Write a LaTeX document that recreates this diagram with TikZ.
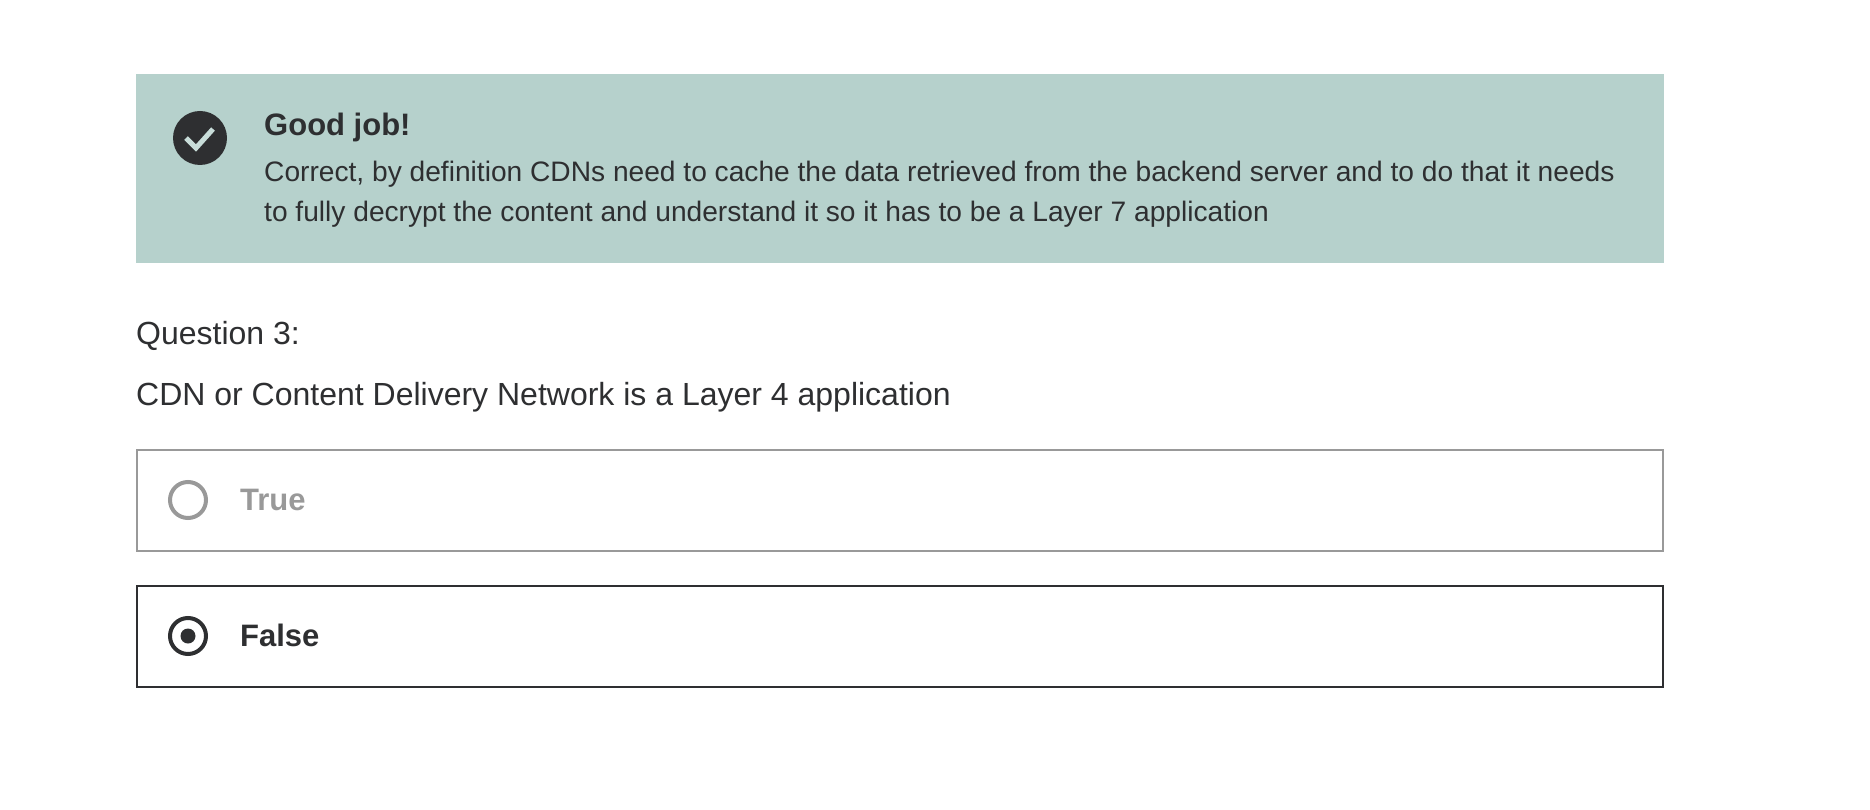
\documentclass[tikz,border=0pt]{standalone}
\usepackage{fontspec}
\setmainfont{Liberation Sans}
\usepackage{xcolor}
\usetikzlibrary{positioning}

\definecolor{banner}{HTML}{B6D1CC}
\definecolor{ink}{HTML}{2E2F31}
\definecolor{muted}{HTML}{999999}

\tikzset{
	body/.style={anchor=base west,inner sep=0pt,text=ink,font=\fontsize{28.15}{36}\selectfont},
	head/.style={body,font=\fontsize{31}{36}\selectfont\bfseries},
	choice/.style={draw=#1,line width=2pt,fill=white},
}

\begin{document}
\begin{tikzpicture}[x=1pt,y=-1pt]
	\useasboundingbox[fill=white] (0,0) rectangle (1870,810);

	% result banner
	\fill[banner] (136,74) rectangle (1664,263);
	\node[circle,fill=ink,minimum size=54pt,inner sep=0pt] (tick) at (200,138) {};
	\draw[banner!75!white,line width=5pt] (186,138) -- (196,148) -- (213,129);
	\node[head] (title) at (264,136) {Good job!};
	\node[body] (lineA) at (264,182) {Correct, by definition CDNs need to cache the data retrieved from the backend server and to do that it needs};
	\node[body] (lineB) at (264,222) {to fully decrypt the content and understand it so it has to be a Layer 7 application};

	% question
	\node[body,font=\fontsize{32}{36}\selectfont] (qnum) at (136,344) {Question 3:};
	\node[body,font=\fontsize{32}{36}\selectfont] (qtext) at (136,405) {CDN or Content Delivery Network is a Layer 4 application};

	% answers
	\draw[choice=muted] (137,450) rectangle (1663,551);
	\node[circle,draw=muted,line width=4pt,minimum size=36pt,inner sep=0pt] (radioT) at (188,500) {};
	\node[head,text=muted] (labelT) at (240,510) {True};

	\draw[choice=ink] (137,586) rectangle (1663,687);
	\node[circle,draw=ink,line width=4pt,minimum size=36pt,inner sep=0pt] (radioF) at (188,636) {};
	\node[circle,fill=ink,minimum size=15pt,inner sep=0pt] (dotF) at (188,636) {};
	\node[head] (labelF) at (240,646) {False};
\end{tikzpicture}
\end{document}
